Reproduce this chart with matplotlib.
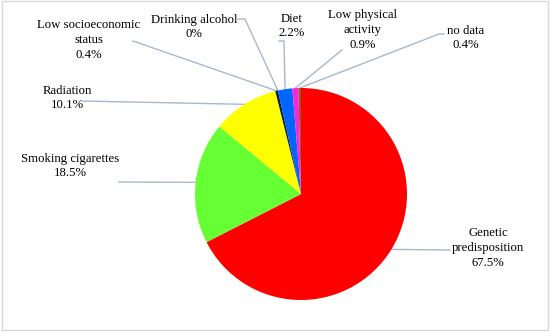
import numpy as np
import matplotlib
matplotlib.use("Agg")
import matplotlib.pyplot as plt
from matplotlib.patches import Rectangle

categories = ["Genetic\npredisposition", "Smoking cigarettes", "Radiation",
              "Low socioeconomic\nstatus", "Drinking alcohol", "Diet",
              "Low physical\nactivity", "no data"]
values = [67.5, 18.5, 10.1, 0.4, 0.0, 2.2, 0.9, 0.4]
value_labels = ["67.5%", "18.5%", "10.1%", "0.4%", "0%", "2.2%", "0.9%", "0.4%"]
colors = ["#FF0000", "#66FF33", "#FFFF00", "#0A1A3A", "#9999CC", "#0066FF", "#FF22DD", "#A0522D"]

W, H = 550, 332
fig = plt.figure(figsize=(W / 100, H / 100), dpi=100)
ax = fig.add_axes([0, 0, 1, 1])
ax.set_xlim(0, W)
ax.set_ylim(0, H)
ax.set_aspect("equal")
ax.axis("off")

def Y(y):
    return H - y

cx, cy, r = 301, 194, 106
ax.pie(values, colors=colors, startangle=90, counterclock=False,
       center=(cx, Y(cy)), radius=r, wedgeprops=dict(linewidth=0),
       frame=True)
ax.set_xlim(0, W)
ax.set_ylim(0, H)
ax.axis("off")

# label centres (pixel coords) and leader-line anchor points (layout)
label_pos = [(488, 248), (70, 166), (67, 98), (89, 40), (194, 27), (292, 26), (363, 30), (466, 38)]
anchors = [
    [(450, 250)],
    [(119, 182)],
    [(82, 101)],
    [(133, 41)],
    [(238, 19), (245, 19)],
    [(279, 41), (284, 41)],
    [(342, 50)],
    [(444, 34), (439, 34)],
]

total = sum(values)
cum = 0.0
line_color = "#A8B8CC"
for i, v in enumerate(values):
    mid = cum + v / 2
    cum += v
    ang = np.deg2rad(90 - 360 * mid / total)
    ex, ey = cx + r * np.cos(ang), Y(cy) + r * np.sin(ang)
    pts = [(x, Y(y)) for x, y in anchors[i]] + [(ex, ey)]
    xs, ys = zip(*pts)
    ax.plot(xs, ys, color=line_color, lw=1.0, zorder=0.5)
    lx, ly = label_pos[i]
    ax.text(lx, Y(ly), categories[i] + "\n" + value_labels[i], ha="center", va="center",
            fontsize=9.2, family="Liberation Serif", linespacing=1.3, color="#000000")

fig.patches.append(Rectangle((0.003, 0.006), 0.994, 0.99, transform=fig.transFigure,
                             fill=False, edgecolor="#D9D9D9", lw=1.0))
fig.savefig("out.png", dpi=100)
